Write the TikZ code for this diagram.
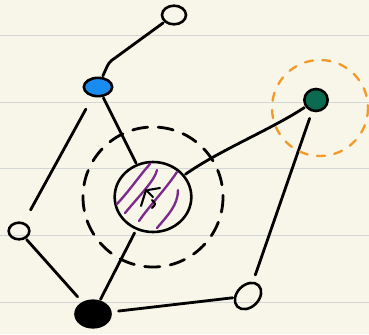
\documentclass[tikz,border=0pt]{standalone}
\usepackage{tikz}
\usetikzlibrary{shapes.geometric}

\definecolor{paper}{HTML}{F8F6E9}
\definecolor{rule}{HTML}{D3D5D6}
\definecolor{bluedot}{HTML}{1A8CF0}
\definecolor{greendot}{HTML}{0B6B50}
\definecolor{hatch}{HTML}{7D2A8C}
\definecolor{halo}{HTML}{F39A2A}

\begin{document}
\begin{tikzpicture}[x=0.03cm,y=-0.03cm,
 pen/.style={line width=2.4pt,line cap=round,line join=round},
 dot/.style={ellipse,draw,line width=2.2pt,inner sep=0pt},
 wire/.style={pen,shorten <=1pt,shorten >=1pt}]
% paper
\fill[paper] (0,0) rectangle (369,334);
\useasboundingbox (0,0) rectangle (369,334);
\foreach \yy in {35,102,168,235,302}
  \draw[rule,line width=0.8pt] (0,\yy) -- (369,\yy);
% nodes
\node[dot,minimum width=0.72cm,minimum height=0.56cm] (top) at (174,15) {};
\node[dot,fill=bluedot,minimum width=0.85cm,minimum height=0.55cm] (blue) at (98,87) {};
\node[dot,fill=greendot,minimum width=0.7cm,minimum height=0.66cm] (green) at (316,100) {};
\node[dot,minimum width=2.3cm,minimum height=2.1cm] (core) at (153,197) {};
\node[dot,minimum width=0.62cm,minimum height=0.5cm] (left) at (19,231) {};
\node[dot,fill=black,minimum width=1.05cm,minimum height=0.8cm] (base) at (93,314) {};
\node[dot,rotate=45,minimum width=0.9cm,minimum height=0.66cm] (ring) at (248,296) {};
% hatching
\begin{scope}[hatch,pen,line width=2pt]
\draw (117,204) .. controls (130,190) and (140,175) .. (150,164);
\draw (125,213) .. controls (140,195) and (155,180) .. (157,170);
\draw (139,221) .. controls (150,205) and (165,190) .. (177,172);
\draw (157,228) .. controls (168,215) and (178,205) .. (178,190);
\end{scope}
\draw[pen,line width=1.8pt] (141,206) -- (146,190) -- (153,197) (148,190) -- (160,188) (152,200) .. controls (156,204) .. (152,208);
% connectors
\draw[wire] (top) -- (115,58) .. controls (109,62) .. (blue);
\draw[wire] (blue) -- (core);
\draw[wire,shorten <=12pt,shorten >=12pt] (blue) -- (left);
\draw[wire,shorten >=6pt] (left) -- (base);
\draw[wire,shorten <=3pt] (core) -- (base);
\draw[wire,shorten <=6pt] (base) -- (ring);
\draw[wire,shorten <=6pt,shorten >=6pt] (ring) -- (green);
\draw[wire] (core) .. controls (220,150) and (270,130) .. (green);
% halos
\draw[pen,dash pattern=on 13pt off 9pt] (core.center) circle (70);
\draw[halo,pen,line width=2pt,dash pattern=on 7pt off 8pt] (320,108) circle (48);
\end{tikzpicture}
\end{document}
